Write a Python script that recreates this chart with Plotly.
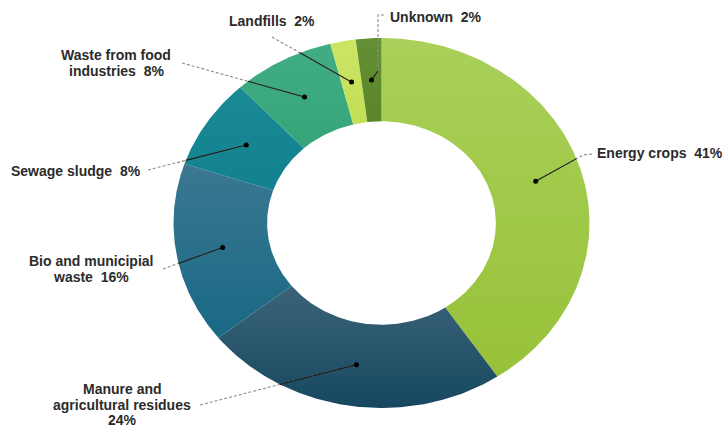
import numpy as np
import plotly.graph_objects as go

# Biogas feedstock shares (%)
categories = ["Energy crops", "Manure and agricultural residues", "Bio and municipal waste",
              "Sewage sludge", "Waste from food industries", "Landfills", "Unknown"]
values = [41, 24, 16, 8, 8, 2, 2]
label_lines = [
    ["Energy crops  41%"],
    ["Manure and", "agricultural residues", "24%"],
    ["Bio and municipial", "waste  16%"],
    ["Sewage sludge  8%"],
    ["Waste from food", "industries  8%"],
    ["Landfills  2%"],
    ["Unknown  2%"],
]
# (bottom colour, top colour) of each slice
colors = [
    ("#97c238", "#a9d05a"),
    ("#164860", "#3b6377"),
    ("#186985", "#3c7791"),
    ("#13818f", "#1a8a96"),
    ("#36a478", "#42ad84"),
    ("#c2df55", "#cbe565"),
    ("#5a862a", "#648f34"),
]

W, H = 727, 428
CX, CY = 381.5, 223.0      # ring centre, px
RX, RY = 208.0, 185.0      # outer radii, px
HOLE = 0.55
DOT_R = 0.775


def px(x, y):
    """pixel position -> data coordinates"""
    return (x - CX) / RX, (CY - y) / RY


# label layout: text anchor (px), alignment, leader-line waypoints (px, from label side)
label_layout = [
    dict(x=595, y=153, align="left", path=[(592, 154), (583, 155)]),
    dict(x=122, y=389, align="center", path=[(200, 405)]),
    dict(x=91, y=261, align="center", path=[(163, 269)]),
    dict(x=143, y=171, align="right", path=[(148, 170)]),
    dict(x=116, y=55, align="center", path=[(182, 63)]),
    dict(x=227, y=21, align="left", path=[(272, 37)]),
    dict(x=388, y=17, align="left", path=[(384, 15), (378, 15), (378, 71)]),
]
LINE_H = 15.5

fig = go.Figure()
total = sum(values)
start = 0.0
mids = []
for i, v in enumerate(values):
    a0 = start / total * 2 * np.pi
    a1 = (start + v) / total * 2 * np.pi
    start += v
    n = max(int(v * 6), 12)
    t = np.linspace(a0, a1, n)
    xs = np.concatenate([np.sin(t), HOLE * np.sin(t[::-1])])
    ys = np.concatenate([np.cos(t), HOLE * np.cos(t[::-1])])
    xs = np.append(xs, xs[0])
    ys = np.append(ys, ys[0])
    lo, hi = colors[i]
    fig.add_trace(go.Scatter(
        x=xs, y=ys, mode="lines", fill="toself",
        line=dict(width=0, color=hi),
        fillcolor=lo,
        fillgradient=dict(type="vertical", colorscale=[[0, lo], [1, hi]]),
        name=categories[i], hoverinfo="name", showlegend=False,
    ))
    mids.append((a0 + a1) / 2)


def ring_exit(p, q):
    """point where segment p->q leaves the unit ellipse"""
    p = np.asarray(p, float)
    d = np.asarray(q, float) - p
    a = d @ d
    b = 2 * p @ d
    c = p @ p - 1
    disc = b * b - 4 * a * c
    if disc < 0:
        return tuple(q)
    tt = (-b + np.sqrt(disc)) / (2 * a)
    tt = min(max(tt, 0), 1)
    return tuple(p + tt * d)


dots_x, dots_y = [], []
for i, m in enumerate(mids):
    dx, dy = DOT_R * np.sin(m), DOT_R * np.cos(m)
    dots_x.append(dx)
    dots_y.append(dy)
    lay = label_layout[i]
    pts = [px(*pt) for pt in lay["path"]] + [(dx, dy)]
    fig.add_trace(go.Scatter(
        x=[p[0] for p in pts], y=[p[1] for p in pts], mode="lines",
        line=dict(color="#8a8a8a", width=1.1, dash="3px,2px"),
        hoverinfo="skip", showlegend=False,
    ))
    ex = ring_exit((dx, dy), pts[-2])
    fig.add_trace(go.Scatter(
        x=[dx, ex[0]], y=[dy, ex[1]], mode="lines",
        line=dict(color="#1a1a1a", width=1.1),
        hoverinfo="skip", showlegend=False,
    ))

fig.add_trace(go.Scatter(
    x=dots_x, y=dots_y, mode="markers",
    marker=dict(color="#000000", size=5),
    hoverinfo="skip", showlegend=False,
))

anchor = {"left": "left", "right": "right", "center": "center"}
for i, lines in enumerate(label_lines):
    lay = label_layout[i]
    for j, txt in enumerate(lines):
        x, y = px(lay["x"], lay["y"] + j * LINE_H)
        fig.add_annotation(
            x=x, y=y, text=txt, showarrow=False,
            xanchor=anchor[lay["align"]], yanchor="middle",
            font=dict(family="Liberation Sans, Arial, sans-serif", size=14, color="#2b2b2b",
                      weight="bold"),
        )

fig.update_layout(
    width=W, height=H,
    margin=dict(l=0, r=0, t=0, b=0),
    paper_bgcolor="white", plot_bgcolor="white",
    xaxis=dict(range=[px(0, 0)[0], px(W, 0)[0]], visible=False, fixedrange=True),
    yaxis=dict(range=[px(0, H)[1], px(0, 0)[1]], visible=False, fixedrange=True),
)

fig.write_html("out.html")
